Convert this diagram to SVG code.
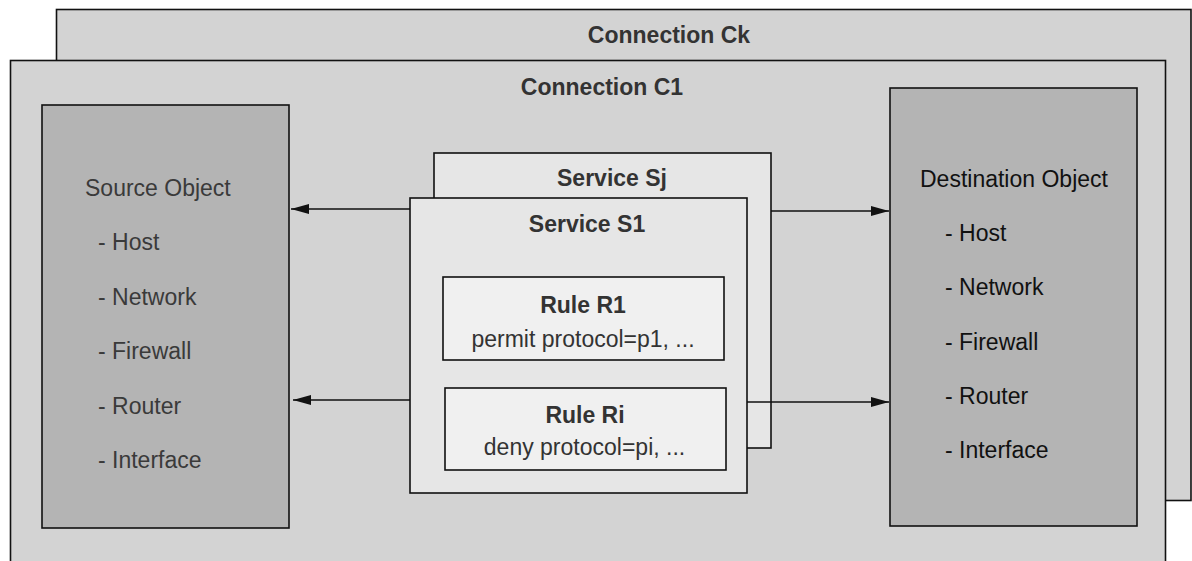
<svg xmlns="http://www.w3.org/2000/svg" width="1192" height="561" viewBox="0 0 1192 561">
  <style>
    .box { stroke: #111; stroke-width: 1.6; }
    .conn { fill: #d3d3d3; }
    .obj { fill: #b4b4b4; }
    .svc { fill: #e6e6e6; }
    .rule { fill: #f0f0f0; }
    text { font-family: "Liberation Sans", Arial, sans-serif; font-size: 23px; }
    .title { font-weight: bold; fill: #333; text-anchor: middle; }
    .src { fill: #3a3a3a; }
    .dst { fill: #111; }
    .rtxt { fill: #333; text-anchor: middle; }
    .edge { stroke: #111; stroke-width: 1.6; fill: none; marker-end: url(#arrow); }
  </style>
  <defs>
    <marker id="arrow" viewBox="0 0 18 10" refX="18" refY="5" markerWidth="18" markerHeight="10" markerUnits="userSpaceOnUse" orient="auto">
      <path d="M0,0 L18,5 L0,10 Z" fill="#111"/>
    </marker>
  </defs>

  <g id="connection-ck">
    <rect class="box conn" x="56.5" y="9.5" width="1134.5" height="491"/>
    <text class="title" x="669" y="43">Connection Ck</text>
  </g>

  <g id="connection-c1">
    <rect class="box conn" x="10.5" y="60.5" width="1155" height="520"/>
    <text class="title" x="602" y="95">Connection C1</text>
  </g>

  <g id="source-object">
    <rect class="box obj" x="42" y="105" width="247" height="423"/>
    <text class="src" x="85" y="196">Source Object</text>
    <text class="src" x="98" y="250">- Host</text>
    <text class="src" x="98" y="304.5">- Network</text>
    <text class="src" x="98" y="359">- Firewall</text>
    <text class="src" x="98" y="413.5">- Router</text>
    <text class="src" x="98" y="468">- Interface</text>
  </g>

  <g id="destination-object">
    <rect class="box obj" x="890" y="88" width="247" height="438"/>
    <text class="dst" x="920" y="187">Destination Object</text>
    <text class="dst" x="945" y="241">- Host</text>
    <text class="dst" x="945" y="295">- Network</text>
    <text class="dst" x="945" y="350">- Firewall</text>
    <text class="dst" x="945" y="404">- Router</text>
    <text class="dst" x="945" y="458">- Interface</text>
  </g>

  <g id="service-sj">
    <rect class="box svc" x="434" y="153" width="337" height="295"/>
    <text class="title" x="612" y="186">Service Sj</text>
  </g>

  <g id="service-s1">
    <rect class="box svc" x="410" y="198" width="337" height="295"/>
    <text class="title" x="587" y="232">Service S1</text>
  </g>

  <g id="rule-r1">
    <rect class="box rule" x="443" y="277" width="281" height="83"/>
    <text class="title" x="583" y="313">Rule R1</text>
    <text class="rtxt" x="583" y="347">permit protocol=p1, ...</text>
  </g>

  <g id="rule-ri">
    <rect class="box rule" x="445" y="388" width="281" height="82"/>
    <text class="title" x="585" y="423">Rule Ri</text>
    <text class="rtxt" x="584.5" y="455">deny protocol=pi, ...</text>
  </g>

  <g id="connectors">
    <line class="edge" x1="410" y1="209" x2="291" y2="209"/>
    <line class="edge" x1="410" y1="400" x2="293" y2="400"/>
    <line class="edge" x1="771" y1="211" x2="889" y2="211"/>
    <line class="edge" x1="747" y1="402" x2="889" y2="402"/>
  </g>
</svg>
